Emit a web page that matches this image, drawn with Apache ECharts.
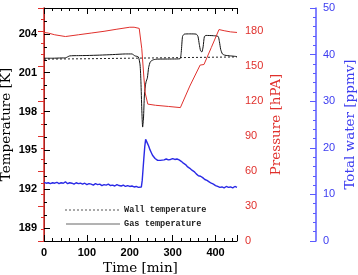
<!DOCTYPE html>
<html lang="en">
<head>
<meta charset="UTF-8">
<title>Temperature, pressure and total water</title>
<script src="https://cdn.jsdelivr.net/npm/echarts@6/dist/echarts.min.js"></script>
<style>html,body{margin:0;padding:0;background:#fff}</style>
</head>
<body>
<div id="main" style="width:358px;height:275px;"></div>
<script type="text/javascript">
// values (time in min)
var gasTime = [0, 20, 40, 50, 60, 80, 100, 130, 160, 190, 205, 212, 220, 224, 226, 228, 230, 232, 234, 236, 238, 241, 244, 248, 255, 265, 300, 317,
    320, 323, 327, 340, 355, 359, 362, 365, 368, 371, 374, 378, 395, 406, 409, 412, 416, 422, 435, 450];
var gasTemp = [202.12, 202.12, 202.14, 202.15, 202.3, 202.32, 202.33, 202.36, 202.4, 202.45, 202.45, 202.3, 202.22, 201.6, 200.3, 198.2, 196.8, 197.5, 199.2, 199.9, 200.3, 200.6, 201.4, 201.85, 202.0, 202.05, 202.06, 202.08,
    202.6, 203.8, 203.98, 204.0, 203.98, 203.8, 203.2, 202.7, 202.6, 203.0, 203.8, 203.88, 203.86, 203.8, 203.4, 202.8, 202.45, 202.35, 202.3, 202.25];

var wallTime = [0, 100, 200, 300, 450];
var wallTemp = [202.05, 202.08, 202.12, 202.16, 202.22];

var pressTime = [0, 10, 25, 50, 80, 110, 140, 170, 200, 210, 222, 228, 233, 236, 242, 260, 290, 318, 340, 364, 373, 390, 408, 420, 435, 450];
var pressure = [179, 178.5, 177, 175.5, 177, 178.5, 180, 181.8, 183.5, 183.5, 182.5, 165, 140, 127, 117.5, 116.5, 115.5, 114.5, 133, 151, 151.5, 166, 181.5, 180.5, 179.5, 179];

var waterTime = [0, 5, 10, 15, 20, 25, 30, 35, 40, 45, 50, 55, 60, 65, 70, 75, 80, 85, 90, 95, 100, 105, 110, 115, 120, 125, 130, 135, 140, 145,
    150, 155, 160, 165, 170, 175, 180, 185, 190, 195, 200, 205, 210, 215, 220, 224, 227, 229, 231, 233, 235, 237, 239, 241, 244, 247, 250, 253, 256, 259,
    262, 265, 268, 271, 275, 280, 285, 290, 295, 300, 305, 310, 315, 320, 325, 330, 335, 340, 345, 350, 355, 360, 365, 370, 375, 380, 385, 390, 395, 400,
    405, 410, 415, 420, 425, 430, 435, 440, 445, 450];
var water = [12.6, 12.4, 12.5, 12.3, 12.5, 12.4, 12.6, 12.3, 12.5, 12.4, 12.7, 12.3, 12.5, 12.4, 12.2, 12.5, 12.3, 12.4, 12.2, 12.4, 12.1, 12.3, 12.2, 12.0, 12.3, 12.1, 12.2, 11.9, 12.1, 12.0,
    12.2, 11.9, 12.0, 11.8, 12.1, 11.9, 11.8, 12.0, 11.7, 11.9, 11.7, 11.8, 11.6, 11.7, 11.5, 11.4, 11.6, 13.0, 15.5, 18.0, 20.3, 21.8, 21.5, 21.0, 20.4, 19.6, 19.0, 18.4, 18.0, 17.7,
    17.6, 17.3, 17.5, 17.3, 17.5, 17.4, 17.6, 17.4, 17.5, 17.7, 17.5, 17.6, 17.4, 17.1, 16.7, 16.4, 15.9, 15.6, 15.2, 14.9, 14.4, 14.0, 13.9, 13.6, 13.2, 13.0, 12.7, 12.4, 12.2, 11.9,
    11.7, 11.5, 11.6, 11.4, 11.7, 11.5, 11.6, 11.4, 11.7, 11.5];

var tempTicks = [189, 192, 195, 198, 201, 204];
var timeTicks = [0, 100, 200, 300, 400];
var pressTicks = [0, 30, 60, 90, 120, 150, 180];

function pairs(xs, ys) {
    var out = [];
    for (var i = 0; i < xs.length; i++) out.push([xs[i], ys[i]]);
    return out;
}

var RED = '#e0302c';
var BLUE = '#2a2ae6';
var serif = 'DejaVu Serif';
var sans = 'Liberation Sans';

var myChart = echarts.init(document.getElementById('main'));

var option = {
    animation: false,
    grid: {left: 44, right: 121, top: 8, bottom: 34, outerBoundsMode: 'none', containLabel: false},
    xAxis: [
        {   // bottom, fine ticks + labels
            type: 'value', position: 'bottom', min: 0, max: 450, interval: 20,
            axisLine: {onZero: false, lineStyle: {color: '#000', width: 1}},
            axisTick: {inside: true, length: 3, lineStyle: {color: '#000'}},
            axisLabel: {
                margin: 6, color: '#000', fontFamily: sans, fontWeight: 'bold', fontSize: 11,
                formatter: function (v) { return timeTicks.indexOf(v) >= 0 ? v : ''; }
            },
            splitLine: {show: false},
            name: 'Time [min]', nameLocation: 'middle', nameGap: 20, nameMoveOverlap: false,
            nameTextStyle: {fontFamily: serif, fontSize: 13.5, color: '#000'}
        },
        {   // bottom, major ticks
            type: 'value', position: 'bottom', min: 0, max: 450, interval: 100,
            axisLine: {show: false, onZero: false},
            axisTick: {inside: true, length: 6, lineStyle: {color: '#000'}},
            axisLabel: {show: false}, splitLine: {show: false}
        },
        {   // top mirror
            type: 'value', position: 'top', min: 0, max: 450, interval: 20,
            axisLine: {onZero: false, lineStyle: {color: '#000', width: 1}},
            axisTick: {inside: true, length: 3, lineStyle: {color: '#000'}},
            axisLabel: {show: false}, splitLine: {show: false}
        },
        {
            type: 'value', position: 'top', min: 0, max: 450, interval: 100,
            axisLine: {show: false, onZero: false},
            axisTick: {inside: true, length: 6, lineStyle: {color: '#000'}},
            axisLabel: {show: false}, splitLine: {show: false}
        }
    ],
    yAxis: [
        {   // temperature, fine ticks + labels
            type: 'value', position: 'left', min: 188, max: 206, interval: 1,
            axisLine: {show: true, lineStyle: {color: '#000', width: 1}},
            axisTick: {inside: true, length: 3, lineStyle: {color: '#000'}},
            axisLabel: {
                margin: 7, color: '#000', fontFamily: sans, fontWeight: 'bold', fontSize: 11,
                formatter: function (v) { return tempTicks.indexOf(v) >= 0 ? v : ''; }
            },
            splitLine: {show: false},
            name: 'Temperature [K]', nameLocation: 'middle', nameGap: 31, nameMoveOverlap: false,
            nameTextStyle: {fontFamily: serif, fontSize: 13.5, color: '#000'}
        },
        {   // temperature, major ticks
            type: 'value', position: 'left', min: 188, max: 206,
            axisLine: {show: false},
            axisTick: {inside: true, length: 6, customValues: tempTicks, lineStyle: {color: '#000'}},
            axisLabel: {show: false}, splitLine: {show: false}
        },
        {   // pressure, fine ticks
            type: 'value', position: 'right', min: 0, max: 200, interval: 10,
            axisLine: {show: true, lineStyle: {color: RED, width: 1.5}},
            axisTick: {inside: true, length: 3, lineStyle: {color: RED}},
            axisLabel: {show: false}, splitLine: {show: false}
        },
        {   // pressure, major ticks + labels
            type: 'value', position: 'right', min: 0, max: 200, interval: 30,
            axisLine: {show: false},
            axisTick: {inside: true, length: 6, lineStyle: {color: RED}},
            axisLabel: {
                margin: 8, color: RED, fontFamily: sans, fontSize: 11,
                formatter: function (v) { return pressTicks.indexOf(v) >= 0 ? v : ''; }
            },
            splitLine: {show: false},
            name: 'Pressure [hPA]', nameLocation: 'middle', nameGap: 32, nameMoveOverlap: false,
            nameTextStyle: {fontFamily: serif, fontSize: 13.5, color: RED}
        },
        {   // total water
            type: 'value', position: 'right', offset: 79, min: 0, max: 50, interval: 10,
            axisLine: {show: true, lineStyle: {color: '#5a5aff', width: 1.5}},
            axisTick: {inside: true, length: 6, lineStyle: {color: '#5a5aff'}},
            minorTick: {show: true, splitNumber: 5, length: 3, lineStyle: {color: '#5a5aff'}},
            axisLabel: {margin: 7, color: '#3c3cf0', fontFamily: sans, fontSize: 11},
            splitLine: {show: false},
            name: 'Total water [ppmv]', nameLocation: 'middle', nameGap: 27, nameMoveOverlap: false,
            nameTextStyle: {fontFamily: serif, fontSize: 13.5, color: '#3c3cf0'}
        }
    ],
    series: [
        {
            name: 'Wall temperature', type: 'line', xAxisIndex: 0, yAxisIndex: 0,
            data: pairs(wallTime, wallTemp), symbol: 'none',
            lineStyle: {color: '#222', width: 1, type: [2, 2]}
        },
        {
            name: 'Gas temperature', type: 'line', xAxisIndex: 0, yAxisIndex: 0,
            data: pairs(gasTime, gasTemp), symbol: 'none', smooth: 0.2,
            lineStyle: {color: '#111', width: 1}
        },
        {
            name: 'Pressure', type: 'line', xAxisIndex: 0, yAxisIndex: 2,
            data: pairs(pressTime, pressure), symbol: 'none',
            lineStyle: {color: RED, width: 1}
        },
        {
            name: 'Total water', type: 'line', xAxisIndex: 0, yAxisIndex: 4,
            data: pairs(waterTime, water), symbol: 'none',
            lineStyle: {color: BLUE, width: 1.4}
        }
    ],
    graphic: [
        {type: 'line', shape: {x1: 65, y1: 210, x2: 121, y2: 210}, style: {stroke: '#555', lineWidth: 1, lineDash: [2, 2]}},
        {type: 'line', shape: {x1: 66, y1: 224, x2: 120, y2: 224}, style: {stroke: '#666', lineWidth: 1}},
        {type: 'text', x: 124, y: 210, style: {text: 'Wall temperature', fill: '#222', font: 'bold 8.6px "Liberation Mono"', textVerticalAlign: 'middle'}},
        {type: 'text', x: 124, y: 224, style: {text: 'Gas temperature', fill: '#222', font: 'bold 8.6px "Liberation Mono"', textVerticalAlign: 'middle'}}
    ]
};

myChart.setOption(option);
</script>
</body>
</html>
